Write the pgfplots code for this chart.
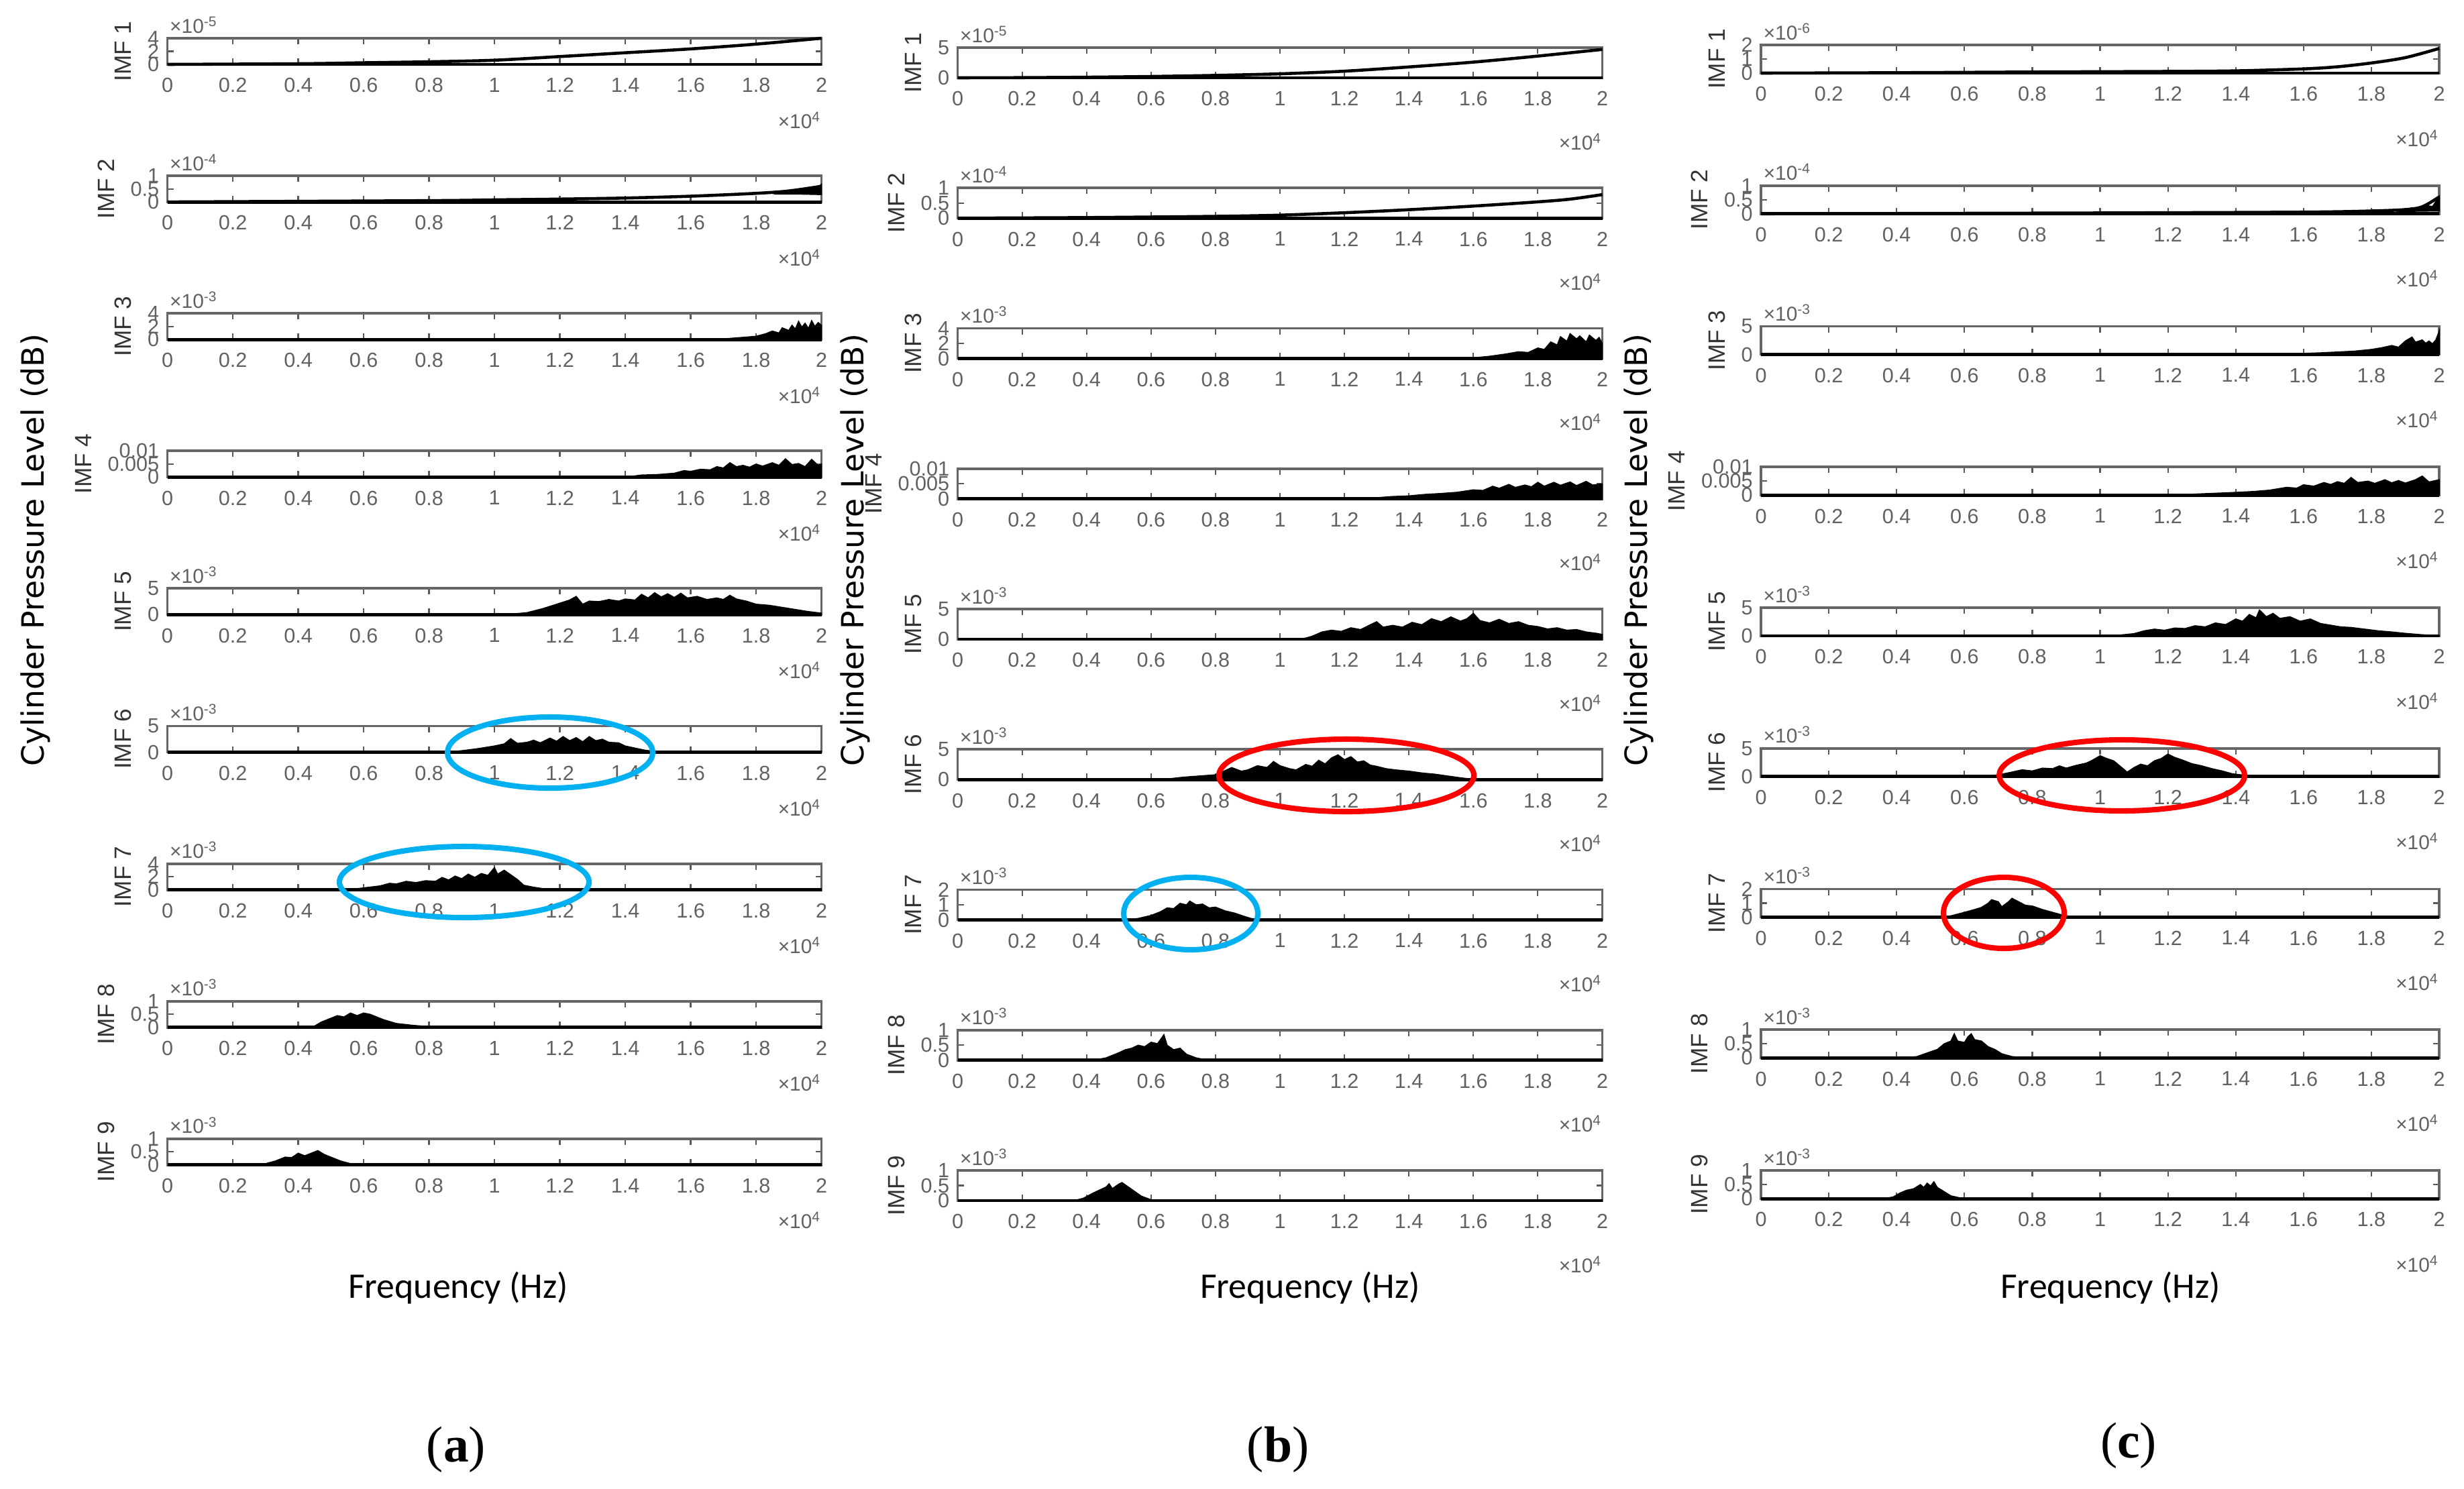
\documentclass[border=0pt]{standalone}
\usepackage{fontspec}
\setmainfont{Liberation Sans}
\newfontfamily\calibri{Carlito}
\newfontfamily\serifcap{Liberation Serif}
\newfontfamily\gothic{DejaVu Sans}
\usepackage{pgfplots}
\pgfplotsset{compat=1.18}

\definecolor{ringcyan}{RGB}{0,176,240}
\definecolor{ringred}{RGB}{255,0,0}

\pgfplotsset{
  imf/.style={
    scale only axis, anchor=north west,
    xmin=0, xmax=2, ymin=0,
    xtick={0,0.2,0.4,0.6,0.8,1,1.2,1.4,1.6,1.8,2},
    xticklabels={0,0.2,0.4,0.6,0.8,1,1.2,1.4,1.6,1.8,2},
    scaled y ticks=false, scaled x ticks=false,
    tick align=inside, major tick length=0.09cm,
    every tick/.style={black!65, line width=0.6pt},
    axis line style={black!60, line width=1.1pt},
    tick label style={font=\fontsize{8.7}{9}\selectfont, color=black!62},
    xticklabel style={yshift=-0.08cm},
    ylabel style={font=\fontsize{10}{11}\selectfont, color=black!80},
    /pgf/number format/assume math mode=true,
    clip=false,
  },
  colA/.style={width=9.75cm, height=0.39cm},
  colB/.style={width=9.61cm, height=0.45cm},
  colC/.style={width=10.11cm, height=0.42cm},
  zeroline/.style={black, line width=1.4pt},
  curve/.style={black, line width=1.3pt, smooth},
  blob/.style={fill=black, draw=black, line width=0.4pt},
}
\tikzset{
  expo/.style={anchor=west, font=\fontsize{8.5}{9}\selectfont, color=black!62, inner sep=0pt},
  xexpo/.style={anchor=east, font=\fontsize{8.5}{9}\selectfont, color=black!62, inner sep=0pt},
}

% #1 x, #2 y of the top left corner (cm), #3 column style, #4 ymax,
% #5 y ticks, #6 IMF number, #7 exponent (empty: none), #8 plots
\newcommand{\imfpanel}[8]{%
  \begin{axis}[imf, #3, at={(#1cm,#2cm)}, ymax=#4, ytick={#5}, yticklabels={#5},
    ylabel={IMF #6}]
    \addplot[zeroline] coordinates {(0,0) (2,0)};
    #8
    \if\relax\detokenize{#7}\relax\else
      \node[expo] at ([xshift=0.03cm, yshift=0.2cm]rel axis cs:0,1) {×10\textsuperscript{#7}};
    \fi
    \node[xexpo] at ([yshift=\xexpo]rel axis cs:1,0) {×10\textsuperscript{4}};
  \end{axis}}

\begin{document}
\begin{tikzpicture}
\useasboundingbox (0,0) rectangle (36.73,-22.19);

% ---------------- column (a)
\def\xexpo{-0.83cm}
\imfpanel{2.495}{-0.57}{colA}{4}{0,2,4}{1}{-5}{
  \addplot[curve] coordinates {(0,0) (0.4,0.1) (0.6,0.25) (0.8,0.4) (1,0.64) (1.2,1.2) (1.4,1.78) (1.6,2.37) (1.8,3.1) (2,4)};}
\imfpanel{2.495}{-2.621}{colA}{1}{0,0.5,1}{2}{-4}{
  \addplot[curve] coordinates {(0,0) (0.8,0.05) (1,0.08) (1.2,0.11) (1.4,0.15) (1.6,0.22) (1.8,0.33) (1.9,0.42) (2,0.6)};
  \addplot[blob] coordinates {(1.86,0.3) (1.9,0.45) (1.93,0.4) (1.96,0.55) (1.98,0.5) (2,0.68) (2,0.28) (1.93,0.3)} -- cycle;}
\imfpanel{2.495}{-4.672}{colA}{4}{0,2,4}{3}{-3}{
  \addplot[blob] coordinates {(1.6,0) (1.7,0.1) (1.75,0.3) (1.8,0.5) (1.83,0.9) (1.85,1.3) (1.87,1.0) (1.88,1.8) (1.9,1.4) (1.91,2.2) (1.92,1.6) (1.93,2.8) (1.94,1.9) (1.95,2.5) (1.96,1.7) (1.97,2.9) (1.98,2.0) (1.99,2.6) (2,2.2)} \closedcycle;}
\imfpanel{2.495}{-6.723}{colA}{0.01}{0,0.005,0.01}{4}{}{
  \addplot[blob] coordinates {(1.4,0) (1.45,0.0008) (1.5,0.001) (1.55,0.0015) (1.58,0.0025) (1.6,0.0022) (1.63,0.003) (1.66,0.0028) (1.68,0.004) (1.7,0.0035) (1.72,0.0055) (1.74,0.004) (1.76,0.0045) (1.78,0.0038) (1.8,0.005) (1.82,0.0042) (1.85,0.0055) (1.87,0.0045) (1.89,0.007) (1.91,0.0048) (1.93,0.0052) (1.95,0.004) (1.97,0.0068) (1.99,0.0045) (2,0.005)} \closedcycle;}
\imfpanel{2.495}{-8.774}{colA}{5}{0,5}{5}{-3}{
  \addplot[blob] coordinates {(1.0,0) (1.05,0.1) (1.1,0.4) (1.15,1.2) (1.2,2.2) (1.23,2.8) (1.25,3.5) (1.27,2.0) (1.29,2.6) (1.32,2.5) (1.35,2.9) (1.38,2.6) (1.4,3.0) (1.43,2.8) (1.45,3.9) (1.47,3.2) (1.49,4.2) (1.51,3.4) (1.53,4.0) (1.55,3.3) (1.57,4.1) (1.59,3.2) (1.62,3.5) (1.65,2.9) (1.68,3.2) (1.7,2.9) (1.72,3.7) (1.74,3.0) (1.77,2.6) (1.8,2.0) (1.84,1.8) (1.88,1.4) (1.92,1.0) (1.96,0.6) (2,0.3)} \closedcycle;}
\imfpanel{2.495}{-10.825}{colA}{5}{0,5}{6}{-3}{
  \addplot[blob] coordinates {(0.85,0) (0.9,0.3) (0.95,0.7) (1.0,1.2) (1.03,1.6) (1.05,2.6) (1.07,1.7) (1.1,1.9) (1.12,2.3) (1.14,1.8) (1.17,2.7) (1.19,2.1) (1.21,3.0) (1.23,2.2) (1.25,2.8) (1.27,2.0) (1.29,3.0) (1.31,2.2) (1.33,2.5) (1.35,1.9) (1.38,1.8) (1.4,1.2) (1.43,0.8) (1.46,0.4) (1.5,0.1) (1.55,0)} \closedcycle;}
\imfpanel{2.495}{-12.876}{colA}{4}{0,2,4}{7}{-3}{
  \addplot[blob] coordinates {(0.55,0) (0.6,0.3) (0.65,0.6) (0.68,1.0) (0.7,0.9) (0.73,1.3) (0.76,1.1) (0.79,1.4) (0.82,1.3) (0.84,1.9) (0.86,1.5) (0.88,2.1) (0.9,1.7) (0.92,2.4) (0.94,1.9) (0.96,2.5) (0.98,2.2) (1.0,3.4) (1.01,2.4) (1.03,3.0) (1.05,2.3) (1.07,1.6) (1.09,0.7) (1.12,0.4) (1.16,0.1) (1.2,0)} \closedcycle;}
\imfpanel{2.495}{-14.927}{colA}{1}{0,0.5,1}{8}{-3}{
  \addplot[blob] coordinates {(0.42,0) (0.45,0.05) (0.47,0.2) (0.5,0.35) (0.52,0.45) (0.54,0.4) (0.56,0.55) (0.58,0.45) (0.6,0.55) (0.62,0.5) (0.64,0.4) (0.66,0.3) (0.7,0.15) (0.75,0.08) (0.8,0.03) (0.85,0)} \closedcycle;}
\imfpanel{2.495}{-16.978}{colA}{1}{0,0.5,1}{9}{-3}{
  \addplot[blob] coordinates {(0.28,0) (0.3,0.05) (0.33,0.15) (0.36,0.3) (0.38,0.28) (0.4,0.45) (0.42,0.35) (0.44,0.45) (0.46,0.55) (0.48,0.4) (0.5,0.3) (0.53,0.15) (0.56,0.05) (0.6,0)} \closedcycle;}

% ---------------- column (b)
\def\xexpo{-0.95cm}
\imfpanel{14.275}{-0.71}{colB}{5}{0,5}{1}{-5}{
  \addplot[curve] coordinates {(0,0) (0.2,0.03) (0.4,0.1) (0.6,0.22) (0.8,0.4) (1,0.66) (1.2,1.1) (1.4,1.8) (1.6,2.6) (1.8,3.6) (2,4.7)};}
\imfpanel{14.275}{-2.8025}{colB}{1}{0,0.5,1}{2}{-4}{
  \addplot[curve] coordinates {(0,0) (0.4,0.02) (0.8,0.06) (1,0.1) (1.2,0.18) (1.4,0.28) (1.6,0.4) (1.8,0.54) (1.9,0.63) (2,0.78)};}
\imfpanel{14.275}{-4.895}{colB}{4}{0,2,4}{3}{-3}{
  \addplot[blob] coordinates {(1.55,0) (1.6,0.1) (1.65,0.3) (1.7,0.6) (1.74,0.9) (1.77,0.8) (1.8,1.4) (1.82,1.2) (1.84,2.2) (1.86,1.8) (1.87,2.9) (1.89,2.3) (1.9,3.3) (1.92,2.6) (1.93,3.0) (1.95,2.2) (1.96,3.1) (1.98,2.4) (1.99,2.8) (2,2.0)} \closedcycle;}
\imfpanel{14.275}{-6.9875}{colB}{0.01}{0,0.005,0.01}{4}{}{
  \addplot[blob] coordinates {(1.25,0) (1.3,0.0004) (1.35,0.0008) (1.4,0.001) (1.45,0.0015) (1.5,0.0018) (1.55,0.0022) (1.6,0.003) (1.63,0.0028) (1.66,0.0042) (1.68,0.0035) (1.71,0.0048) (1.73,0.0038) (1.76,0.0046) (1.78,0.004) (1.8,0.0055) (1.82,0.0042) (1.85,0.0055) (1.87,0.0045) (1.9,0.0056) (1.92,0.0044) (1.95,0.0058) (1.97,0.0046) (2,0.005)} \closedcycle;}
\imfpanel{14.275}{-9.08}{colB}{5}{0,5}{5}{-3}{
  \addplot[blob] coordinates {(1.05,0) (1.08,0.2) (1.1,0.5) (1.13,1.2) (1.16,1.5) (1.19,1.3) (1.22,1.9) (1.25,1.6) (1.28,2.4) (1.3,2.9) (1.32,2.0) (1.35,2.3) (1.38,2.0) (1.41,2.8) (1.44,2.4) (1.47,3.4) (1.5,2.9) (1.53,3.7) (1.56,3.0) (1.58,3.4) (1.6,4.3) (1.62,3.1) (1.65,2.7) (1.68,3.3) (1.71,2.6) (1.74,2.9) (1.77,2.3) (1.8,2.1) (1.83,1.7) (1.86,1.9) (1.89,1.5) (1.92,1.6) (1.95,1.2) (1.98,1.0) (2,0.8)} \closedcycle;}
\imfpanel{14.275}{-11.1725}{colB}{5}{0,5}{6}{-3}{
  \addplot[blob] coordinates {(0.6,0) (0.65,0.1) (0.7,0.4) (0.75,0.6) (0.8,0.8) (0.83,1.5) (0.85,2.0) (0.88,1.4) (0.9,1.6) (0.93,2.3) (0.96,2.0) (0.98,3.0) (1.0,2.3) (1.03,1.8) (1.05,1.6) (1.08,2.5) (1.1,2.2) (1.12,3.2) (1.14,2.6) (1.16,3.6) (1.18,4.1) (1.2,3.3) (1.22,3.8) (1.24,2.9) (1.26,3.1) (1.28,2.4) (1.3,2.2) (1.33,1.8) (1.36,1.6) (1.4,1.4) (1.44,1.1) (1.48,0.9) (1.52,0.6) (1.56,0.3) (1.6,0.05) (1.65,0)} \closedcycle;}
\imfpanel{14.275}{-13.265}{colB}{2}{0,1,2}{7}{-3}{
  \addplot[blob] coordinates {(0.52,0) (0.56,0.1) (0.6,0.3) (0.63,0.55) (0.65,0.8) (0.67,0.75) (0.69,1.1) (0.71,1.0) (0.72,1.25) (0.74,1.0) (0.76,1.05) (0.78,0.8) (0.8,0.85) (0.83,0.6) (0.86,0.45) (0.88,0.3) (0.91,0.1) (0.95,0)} \closedcycle;}
\imfpanel{14.275}{-15.3575}{colB}{1}{0,0.5,1}{8}{-3}{
  \addplot[blob] coordinates {(0.42,0) (0.46,0.08) (0.5,0.25) (0.52,0.35) (0.54,0.4) (0.56,0.5) (0.58,0.45) (0.6,0.6) (0.62,0.55) (0.64,0.85) (0.65,0.5) (0.67,0.35) (0.69,0.4) (0.71,0.2) (0.74,0.08) (0.78,0)} \closedcycle;}
\imfpanel{14.275}{-17.45}{colB}{1}{0,0.5,1}{9}{-3}{
  \addplot[blob] coordinates {(0.36,0) (0.39,0.08) (0.42,0.25) (0.44,0.35) (0.46,0.45) (0.47,0.56) (0.48,0.4) (0.5,0.55) (0.51,0.6) (0.53,0.45) (0.55,0.3) (0.57,0.15) (0.6,0.03) (0.62,0)} \closedcycle;}

% ---------------- column (c)
\def\xexpo{-0.97cm}
\imfpanel{26.25}{-0.67}{colC}{2}{0,1,2}{1}{-6}{
  \addplot[curve] coordinates {(0,0) (0.4,0.03) (0.8,0.08) (1.2,0.12) (1.4,0.16) (1.6,0.3) (1.7,0.45) (1.8,0.72) (1.9,1.1) (2,1.75)};}
\imfpanel{26.25}{-2.7675}{colC}{1}{0,0.5,1}{2}{-4}{
  \addplot[curve] coordinates {(0,0) (1,0.03) (1.6,0.06) (1.8,0.1) (1.9,0.15) (1.95,0.25) (2,0.6)};
  \addplot[blob] coordinates {(1.88,0.08) (1.92,0.22) (1.94,0.16) (1.96,0.3) (1.98,0.26) (2,0.62) (2,0.1)} -- cycle;}
\imfpanel{26.25}{-4.865}{colC}{5}{0,5}{3}{-3}{
  \addplot[blob] coordinates {(1.5,0) (1.55,0.1) (1.6,0.2) (1.65,0.3) (1.7,0.45) (1.75,0.6) (1.8,0.9) (1.83,1.2) (1.86,1.6) (1.88,1.3) (1.9,2.4) (1.92,3.1) (1.93,2.2) (1.95,2.6) (1.96,2.0) (1.97,2.4) (1.98,1.9) (1.99,2.6) (2,4.2)} \closedcycle;}
\imfpanel{26.25}{-6.9625}{colC}{0.01}{0,0.005,0.01}{4}{}{
  \addplot[blob] coordinates {(1.2,0) (1.3,0.0005) (1.4,0.001) (1.45,0.0013) (1.5,0.0018) (1.55,0.0028) (1.58,0.0025) (1.6,0.0037) (1.63,0.0032) (1.66,0.0045) (1.68,0.0038) (1.7,0.0048) (1.72,0.0042) (1.74,0.0063) (1.76,0.0045) (1.79,0.005) (1.81,0.0042) (1.84,0.0055) (1.86,0.0044) (1.88,0.0052) (1.9,0.0043) (1.93,0.0055) (1.95,0.0068) (1.97,0.0047) (2,0.0055)} \closedcycle;}
\imfpanel{26.25}{-9.06}{colC}{5}{0,5}{5}{-3}{
  \addplot[blob] coordinates {(1.0,0) (1.05,0.1) (1.1,0.4) (1.13,0.9) (1.16,1.2) (1.19,1.0) (1.22,1.4) (1.25,1.3) (1.28,1.8) (1.31,1.6) (1.34,2.3) (1.37,2.0) (1.4,3.0) (1.42,2.6) (1.44,3.8) (1.46,3.2) (1.47,4.6) (1.49,3.4) (1.51,4.0) (1.53,3.1) (1.56,3.4) (1.59,2.6) (1.62,3.0) (1.65,2.2) (1.68,1.9) (1.71,1.6) (1.74,1.5) (1.78,1.2) (1.82,0.9) (1.86,0.7) (1.9,0.45) (1.95,0.2) (2,0.05)} \closedcycle;}
\imfpanel{26.25}{-11.1575}{colC}{5}{0,5}{6}{-3}{
  \addplot[blob] coordinates {(0.6,0) (0.65,0.1) (0.7,0.3) (0.74,0.8) (0.77,1.2) (0.8,1.0) (0.83,1.5) (0.86,1.4) (0.88,1.9) (0.9,1.5) (0.93,2.0) (0.96,2.4) (0.98,3.0) (1.0,3.7) (1.02,3.2) (1.04,2.8) (1.06,1.8) (1.08,0.8) (1.1,1.6) (1.12,2.2) (1.14,1.9) (1.16,2.8) (1.18,3.2) (1.2,4.0) (1.22,3.4) (1.24,3.0) (1.27,2.3) (1.3,1.9) (1.33,1.4) (1.36,1.0) (1.39,0.5) (1.43,0.2) (1.48,0)} \closedcycle;}
\imfpanel{26.25}{-13.255}{colC}{2}{0,1,2}{7}{-3}{
  \addplot[blob] coordinates {(0.52,0) (0.56,0.1) (0.6,0.35) (0.63,0.55) (0.65,0.7) (0.67,1.0) (0.68,1.25) (0.7,1.1) (0.71,0.75) (0.73,1.1) (0.74,1.35) (0.76,1.1) (0.78,0.85) (0.8,0.8) (0.83,0.55) (0.86,0.35) (0.89,0.15) (0.93,0)} \closedcycle;}
\imfpanel{26.25}{-15.3525}{colC}{1}{0,0.5,1}{8}{-3}{
  \addplot[blob] coordinates {(0.42,0) (0.46,0.05) (0.5,0.22) (0.52,0.3) (0.54,0.5) (0.56,0.6) (0.57,0.86) (0.58,0.6) (0.6,0.55) (0.61,0.75) (0.62,0.86) (0.63,0.65) (0.65,0.6) (0.67,0.4) (0.69,0.3) (0.71,0.15) (0.74,0.05) (0.78,0)} \closedcycle;}
\imfpanel{26.25}{-17.45}{colC}{1}{0,0.5,1}{9}{-3}{
  \addplot[blob] coordinates {(0.36,0) (0.39,0.06) (0.41,0.2) (0.43,0.3) (0.45,0.35) (0.47,0.5) (0.48,0.4) (0.49,0.55) (0.5,0.45) (0.51,0.6) (0.52,0.4) (0.54,0.25) (0.56,0.1) (0.59,0.02) (0.62,0)} \closedcycle;}

% ---------------- shared labels
\foreach \x in {0.53,12.75,24.43}
  \node[rotate=90, font=\gothic\fontsize{13}{14}\selectfont] at (\x,-8.2) {Cylinder Pressure Level (dB)};
\foreach \x in {6.83,19.53,31.46}
  \node[font=\calibri\fontsize{15.3}{16}\selectfont] at (\x,-19.2) {Frequency (Hz)};
\node[font=\serifcap\fontsize{21.5}{22}\selectfont] at (6.80,-21.61) {(\textbf{a})};
\node[font=\serifcap\fontsize{21.5}{22}\selectfont] at (19.05,-21.61) {(\textbf{b})};
\node[font=\serifcap\fontsize{21.5}{22}\selectfont] at (31.73,-21.55) {(\textbf{c})};

% ---------------- highlight rings
\begin{scope}[line width=2.3pt]
  \draw[ringcyan] (8.20,-11.22) ellipse [x radius=1.53, y radius=0.53];
  \draw[ringcyan] (6.92,-13.15) ellipse [x radius=1.86, y radius=0.53];
  \draw[ringred]  (20.07,-11.56) ellipse [x radius=1.90, y radius=0.54];
  \draw[ringcyan] (17.75,-13.62) ellipse [x radius=1.00, y radius=0.54];
  \draw[ringred]  (31.63,-11.56) ellipse [x radius=1.83, y radius=0.53];
  \draw[ringred]  (29.87,-13.61) ellipse [x radius=0.90, y radius=0.53];
\end{scope}
\end{tikzpicture}
\end{document}
